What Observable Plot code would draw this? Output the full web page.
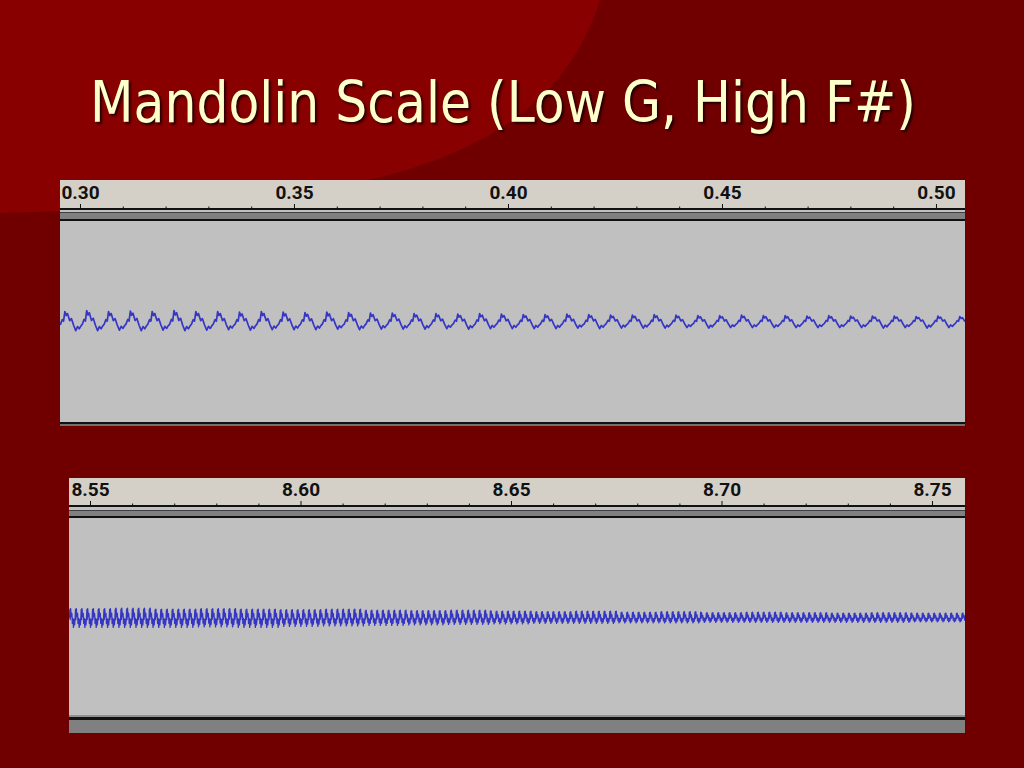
<!DOCTYPE html>
<html><head><meta charset="utf-8">
<script src="https://cdn.jsdelivr.net/npm/d3@7"></script>
<script src="https://cdn.jsdelivr.net/npm/@observablehq/plot@0.6"></script>
<style>
html,body{margin:0;padding:0;width:1024px;height:768px;overflow:hidden;background:#700000;}
#bg,#title{position:absolute;left:0;top:0}
.panel{position:absolute}
.panel svg{display:block}
</style></head><body>
<svg id="bg" width="1024" height="768"><path d="M0,0 L600,0 C540,190 300,205 0,213 Z" fill="#880000"/></svg>
<svg id="title" width="1024" height="170">
  <text x="90" y="122" font-family="DejaVu Sans" font-size="57" fill="#ffffcc" textLength="826" lengthAdjust="spacingAndGlyphs" style="filter:drop-shadow(2px 2px 1px rgba(0,0,0,0.7))">Mandolin Scale (Low G, High F#)</text>
</svg>
<div id="top" class="panel" style="left:60px;top:180px;width:905px;height:246px"></div>
<div id="bottom" class="panel" style="left:69px;top:478px;width:896px;height:255px"></div>
<script>
// ---- Top panel (Low G, ~196 Hz) ----
const topDomain = [0.29533, 0.50678];
const topMajor = [0.30, 0.35, 0.40, 0.45, 0.50];
const topMinor = [0.31, 0.32, 0.33, 0.34, 0.36, 0.37, 0.38, 0.39, 0.41, 0.42, 0.43, 0.44, 0.46, 0.47, 0.48, 0.49];
const topPeriod = 0.0051;
// one cycle's shape: [phase, normalised level]
const topShape = [[0, -0.3], [0.08, 0.2], [0.14, 0.05], [0.2, 1.0], [0.26, 0.6], [0.32, 0.8], [0.42, 0.1], [0.5, 0.3], [0.6, -0.4], [0.7, -1.0], [0.78, -0.55], [0.86, -0.8], [0.93, -0.5]];
// per-cycle positive / negative amplitudes
const topHi = [0.10,0.11,0.10,0.105,0.10,0.11,0.10,0.10,0.095,0.10,0.095,0.09,0.095,0.09,0.085,0.085,0.08,0.08,0.075,0.08,0.075,0.07,0.07,0.075,0.07,0.065,0.065,0.07,0.065,0.06,0.06,0.065,0.06,0.06,0.055,0.06,0.055,0.055,0.055,0.05,0.055,0.05];
const topLo = [0.09,0.09,0.085,0.09,0.085,0.09,0.085,0.08,0.085,0.08,0.08,0.08,0.075,0.08,0.075,0.075,0.075,0.07,0.075,0.07,0.07,0.07,0.07,0.065,0.07,0.065,0.065,0.065,0.06,0.065,0.06,0.06,0.06,0.06,0.06,0.06,0.06,0.065,0.06,0.065,0.06,0.06];

// ---- Bottom panel (High F#, ~740 Hz) ----
const botDomain = [8.54501, 8.75784];
const botMajor = [8.55, 8.60, 8.65, 8.70, 8.75];
const botMinor = [8.56, 8.57, 8.58, 8.59, 8.61, 8.62, 8.63, 8.64, 8.66, 8.67, 8.68, 8.69, 8.71, 8.72, 8.73, 8.74];
const botPeriod = 0.00135;
const botShape = [[0, 0], [0.06, 0.9], [0.12, -0.2], [0.2, 1.0], [0.3, 0.1], [0.42, 0.45], [0.5, -0.6], [0.6, -0.1], [0.7, -1.0], [0.8, -0.2], [0.9, -0.75]];
// amplitude per 0.01 s segment
const botHi = [0.09,0.095,0.085,0.09,0.085,0.08,0.085,0.075,0.07,0.075,0.065,0.06,0.065,0.055,0.06,0.05,0.055,0.05,0.045,0.05,0.045,0.045];
const botLo = [0.10,0.10,0.10,0.095,0.10,0.09,0.085,0.08,0.075,0.07,0.065,0.06,0.06,0.055,0.055,0.05,0.05,0.05,0.05,0.05,0.045,0.045];

function buildWave(domain, period, shape, hi, lo, segLen) {
  const [start, end] = domain;
  const pts = [];
  for (let k = 0; start + k * period <= end + period; k++) {
    const t0 = start + k * period;
    for (const [ph, v] of shape) {
      const t = t0 + ph * period;
      const idx = Math.min(Math.floor((t - start) / segLen), hi.length - 1);
      const amp = v >= 0 ? hi[idx] : lo[idx];
      pts.push({t, v: v * amp});
    }
  }
  return pts;
}

const topWave = buildWave(topDomain, topPeriod, topShape, topHi, topLo, topPeriod);
const botWave = buildWave(botDomain, botPeriod, botShape, botHi, botLo, 0.01);

function panel({width, height, marginTop, marginBottom, domain, yTop, wave, major, minor, bg, sw}) {
  const svg = Plot.plot({
    width, height, marginTop, marginBottom, marginLeft: 0, marginRight: 0,
    style: {color: "#111", fontFamily: "Roboto", fontWeight: 700, overflow: "visible"},
    x: {domain, axis: null},
    y: {domain: [-1, yTop], axis: null},
    marks: [
      Plot.line(wave, {x: "t", y: "v", stroke: "#3636c4", strokeWidth: sw, clip: true}),
      Plot.axisX({anchor: "top", ticks: minor, tickSize: 2.5, tickFormat: () => "", label: null}),
      Plot.axisX({anchor: "top", ticks: major, tickSize: 5, tickPadding: 5, tickFormat: d => d.toFixed(2),
                  fontSize: 19, fontWeight: 700, label: null})
    ]
  });
  svg.style.background = bg;
  return svg;
}

document.getElementById("top").append(panel({
  width: 905, height: 246, marginTop: 28, marginBottom: 4.3, sw: 1.7,
  domain: topDomain, yTop: 1.1243, wave: topWave, major: topMajor, minor: topMinor,
  bg: "linear-gradient(to bottom,#d4d0c8 0px,#d4d0c8 27.5px,#111 27.5px,#111 29.5px,#c0c0c0 29.5px,#c0c0c0 32px,#404040 32px,#404040 33px,#808080 33px,#808080 38.5px,#111 38.5px,#111 40.5px,#c0c0c0 40.5px,#c0c0c0 241.7px,#111 241.7px,#111 243.7px,#707070 243.7px,#707070 246px)"
}));

document.getElementById("bottom").append(panel({
  width: 896, height: 255, marginTop: 27, marginBottom: 17, sw: 1.3,
  domain: botDomain, yTop: 1.1313, wave: botWave, major: botMajor, minor: botMinor,
  bg: "linear-gradient(to bottom,#d4d0c8 0px,#d4d0c8 27px,#111 27px,#111 29px,#c0c0c0 29px,#c0c0c0 32px,#404040 32px,#404040 33px,#808080 33px,#808080 38px,#111 38px,#111 40px,#c0c0c0 40px,#c0c0c0 237.5px,#909090 237.5px,#909090 239px,#111 239px,#111 242px,#808080 242px,#808080 255px)"
}));
</script>
</body></html>
